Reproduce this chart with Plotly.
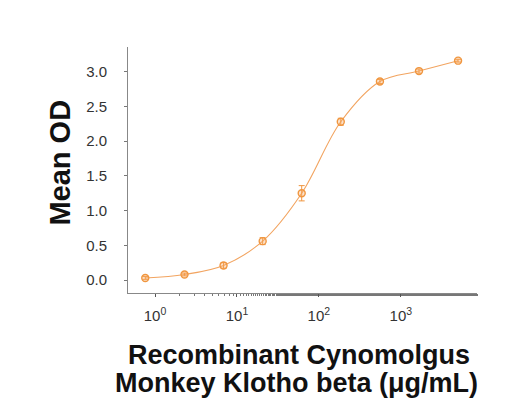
import plotly.graph_objects as go

# Data
concentration = [0.76, 2.29, 6.86, 20.6, 61.7, 185, 556, 1667, 5000]
mean_od = [0.03, 0.08, 0.21, 0.56, 1.25, 2.28, 2.86, 3.01, 3.16]
od_err = [0.02, 0.02, 0.04, 0.05, 0.11, 0.05, 0.03, 0.03, 0.02]

x_tick_vals = [1, 10, 100, 1000]
x_tick_text = ["10<sup>0</sup>", "10<sup>1</sup>", "10<sup>2</sup>", "10<sup>3</sup>"]
y_tick_vals = [0.0, 0.5, 1.0, 1.5, 2.0, 2.5, 3.0]
y_tick_text = ["0.0", "0.5", "1.0", "1.5", "2.0", "2.5", "3.0"]

x_title_lines = ["Recombinant Cynomolgus", "Monkey Klotho beta (\u03bcg/mL)"]
y_title = "Mean OD"

orange = "#F0963F"

fig = go.Figure()
fig.add_trace(go.Scatter(
    x=concentration, y=mean_od,
    mode="lines",
    line=dict(color="#F2A460", width=1.1, shape="spline", smoothing=1.0),
    hoverinfo="skip", showlegend=False,
))
fig.add_trace(go.Scatter(
    x=concentration, y=mean_od,
    mode="markers",
    marker=dict(symbol="circle", size=7, color="rgba(245,170,100,0.35)",
                line=dict(width=1.4, color=orange)),
    error_y=dict(type="data", array=od_err, color=orange, thickness=1, width=3),
    showlegend=False,
))

font = "Liberation Sans, Arial, sans-serif"
fig.update_layout(
    width=509, height=404,
    margin=dict(l=120, r=40, t=39, b=119),
    paper_bgcolor="white", plot_bgcolor="white",
    font=dict(family=font, color="#333333"),
    xaxis=dict(
        type="log", range=[-0.33, 3.93],
        tickvals=x_tick_vals, ticktext=x_tick_text,
        ticks="outside", ticklen=3, tickcolor="#555", tickwidth=1,
        minor=dict(ticks="outside", ticklen=2, tickcolor="#777", showgrid=False),
        showline=True, linecolor="#888", linewidth=1,
        showgrid=False, zeroline=False,
        tickfont=dict(size=15, color="#333"),
        ticklabelstandoff=6,
    ),
    yaxis=dict(
        range=[-0.187, 3.357],
        tickvals=y_tick_vals, ticktext=y_tick_text,
        ticks="outside", ticklen=3, tickcolor="#777",
        showline=True, linecolor="#888", linewidth=1,
        showgrid=False, zeroline=False,
        tickfont=dict(size=15, color="#333"),
        ticklabelstandoff=14,
    ),
)

fig.add_annotation(text="<b>" + x_title_lines[0] + "</b>", xref="paper", yref="paper",
                   x=0.489, y=-0.252, xanchor="center", yanchor="middle", showarrow=False,
                   font=dict(size=27, color="#111", family=font))
fig.add_annotation(text="<b>" + x_title_lines[1] + "</b>", xref="paper", yref="paper",
                   x=0.483, y=-0.366, xanchor="center", yanchor="middle", showarrow=False,
                   font=dict(size=27, color="#111", family=font))
fig.add_annotation(text="<b>" + y_title + "</b>", xref="paper", yref="paper",
                   x=-0.195, y=0.53, xanchor="center", yanchor="middle", showarrow=False,
                   textangle=-90, font=dict(size=29, color="#111", family=font))

fig.write_html("out.html")
